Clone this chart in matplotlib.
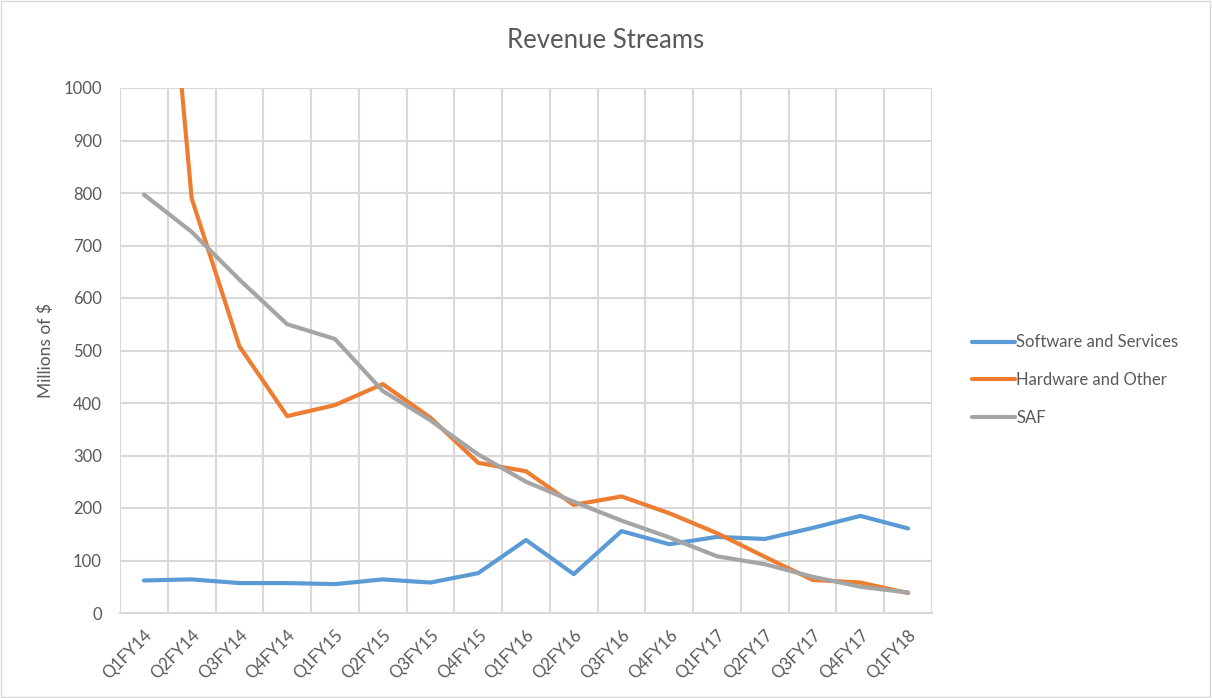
import numpy as np
import matplotlib.pyplot as plt
from matplotlib.patches import Rectangle

plt.rcParams['font.family'] = ['Lato', 'DejaVu Sans']

quarters = ['Q1FY14', 'Q2FY14', 'Q3FY14', 'Q4FY14', 'Q1FY15', 'Q2FY15', 'Q3FY15', 'Q4FY15',
            'Q1FY16', 'Q2FY16', 'Q3FY16', 'Q4FY16', 'Q1FY17', 'Q2FY17', 'Q3FY17', 'Q4FY17', 'Q1FY18']
software = [62, 64, 57, 57, 55, 64, 58, 76, 139, 74, 156, 131, 145, 141, 162, 185, 161]
hardware = [1800, 790, 508, 375, 396, 436, 372, 286, 270, 206, 222, 190, 152, 107, 63, 58, 38]
saf = [797, 726, 635, 550, 522, 423, 367, 302, 250, 212, 176, 144, 108, 93, 69, 50, 39]

txt = '#595959'
grid = '#D9D9D9'

fig = plt.figure(figsize=(12.12, 6.98), dpi=100)
ax = fig.add_axes([120/1212, 1 - 613/698, (932-120)/1212, (613-88)/698])

x = np.arange(len(quarters))
ax.plot(x, software, color='#5B9BD5', lw=3, label='Software and Services', solid_capstyle='round')
ax.plot(x, hardware, color='#ED7D31', lw=3, label='Hardware and Other', solid_capstyle='round')
ax.plot(x, saf, color='#A5A5A5', lw=3, label='SAF', solid_capstyle='round')

ax.set_xlim(-0.5, len(quarters) - 0.5)
ax.set_ylim(0, 1000)
ax.set_yticks(np.arange(0, 1001, 100))
ax.set_xticks(x)
ax.set_xticklabels(quarters, rotation=45, ha='right', rotation_mode='anchor')
ax.set_xticks(np.arange(-0.5, len(quarters)), minor=True)
ax.grid(True, which='minor', axis='x', color=grid, lw=1.5)
ax.grid(True, which='major', axis='y', color=grid, lw=1.5)
ax.set_axisbelow(True)
ax.tick_params(which='both', length=0, colors=txt, labelsize=12)
ax.tick_params(axis='y', pad=13)
ax.tick_params(axis='x', pad=10)
for s in ax.spines.values():
    s.set_visible(False)
ax.spines['bottom'].set_visible(True)
ax.spines['bottom'].set_color(grid)
ax.spines['bottom'].set_linewidth(1.5)

ax.set_ylabel('Millions of $', color=txt, fontsize=12.5, labelpad=7)
fig.text(606/1212, 1 - 41/698, 'Revenue Streams', ha='center', va='center', fontsize=18.5, color=txt)

ax.legend(loc='center left', bbox_to_anchor=(957/1212, 1 - 380/698), bbox_transform=fig.transFigure,
          frameon=False, fontsize=12, labelcolor=txt, handlelength=2.6, handletextpad=0.05,
          labelspacing=1.3)

fig.patches.append(Rectangle((0.001, 0.001), 0.997, 0.997, transform=fig.transFigure,
                             fill=False, edgecolor=grid, lw=1))

fig.savefig('out.png', dpi=100)
